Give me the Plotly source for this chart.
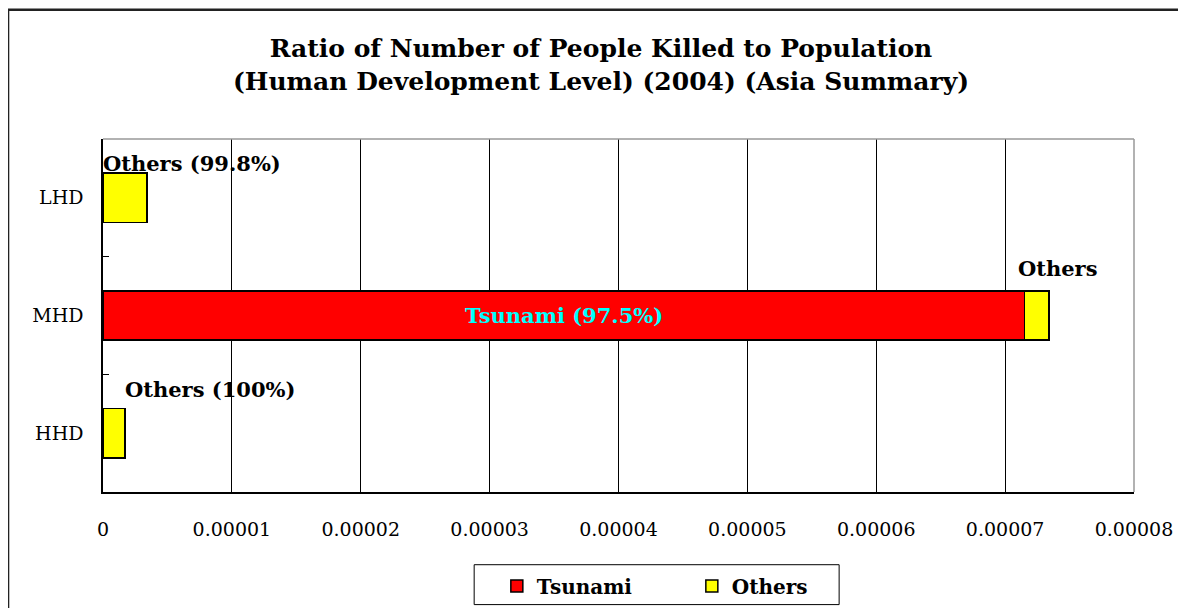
import plotly.graph_objects as go

# Ratio of people killed to population, by human development level (Asia, 2004)
levels = ['HHD', 'MHD', 'LHD']
tsunami = [0.0, 0.00007149, 0.0000000068]
others = [0.0000017, 0.00000192, 0.0000034]
label_text = ['Others (100%)', 'Others', 'Others (99.8%)']
tsunami_label = 'Tsunami (97.5%)'
x_ticks = [0, 0.00001, 0.00002, 0.00003, 0.00004, 0.00005, 0.00006, 0.00007, 0.00008]
x_tick_text = ['0', '0.00001', '0.00002', '0.00003', '0.00004', '0.00005', '0.00006', '0.00007', '0.00008']

serif = 'DejaVu Serif'
lbl_font = dict(family=serif, size=21, color='#000000')

fig = go.Figure()
fig.add_trace(go.Bar(y=levels, x=tsunami, name='<b>Tsunami</b>', orientation='h',
                     marker=dict(color='#FF0000', line=dict(color='#000000', width=1.5))))
fig.add_trace(go.Bar(y=levels, x=others, name='<b>Others</b>', orientation='h',
                     marker=dict(color='#FFFF00', line=dict(color='#000000', width=1.5))))

# Labels over the bars: HHD / LHD start at bar end (or axis), MHD one sits over the small segment
fig.add_annotation(x=tsunami[2], y=levels[2], text='<b>' + label_text[2] + '</b>', showarrow=False,
                   xanchor='left', xshift=-2, yshift=34, font=lbl_font)
fig.add_annotation(x=tsunami[1], y=levels[1], text='<b>' + label_text[1] + '</b>', showarrow=False,
                   xanchor='left', xshift=-8, yshift=47, font=lbl_font)
fig.add_annotation(x=others[0], y=levels[0], text='<b>' + label_text[0] + '</b>', showarrow=False,
                   xanchor='left', xshift=-2, yshift=44, font=lbl_font)
fig.add_annotation(x=tsunami[1] / 2, y=levels[1], text='<b>' + tsunami_label + '</b>', showarrow=False,
                   font=dict(family=serif, size=21, color='#00FFFF'))

# Gray top/right border of the plot area and the outer chart frame
fig.add_shape(type='line', xref='paper', yref='paper', x0=0, x1=1, y0=1, y1=1,
              line=dict(color='#999999', width=1.5))
fig.add_shape(type='line', xref='paper', yref='paper', x0=1, x1=1, y0=0, y1=1,
              line=dict(color='#999999', width=1.5))
fig.add_shape(type='rect', xref='paper', yref='paper', x0=-0.0921, x1=1.1, y0=-0.39, y1=1.366,
              line=dict(color='#222222', width=2.5))
# legend box drawn separately so the entries can sit further in
fig.add_shape(type='rect', xref='paper', yref='paper', x0=0.36, x1=0.714, y0=-0.319, y1=-0.206,
              line=dict(color='#000000', width=1))

# page has an 8px body margin, so margins are shifted by that much
fig.update_layout(
    width=1186, height=608,
    margin=dict(l=95, r=60, t=131, b=123),
    paper_bgcolor='white', plot_bgcolor='white',
    barmode='stack', bargap=0.58,
    title=dict(text='<b>Ratio of Number of People Killed to Population<br>'
                    '(Human Development Level) (2004) (Asia Summary)</b>',
               x=601 / 1186 - 8 / 1186, xanchor='center', y=1 - 49 / 608, yanchor='top',
               font=dict(family=serif, size=25, color='#000000')),
    legend=dict(orientation='h', x=0.382, xanchor='left', y=-0.263, yanchor='middle',
                borderwidth=0, bgcolor='rgba(0,0,0,0)', traceorder='normal',
                entrywidth=150, itemwidth=30,
                font=dict(family=serif, size=20, color='#000000')),
    showlegend=True,
)
fig.update_xaxes(range=[0, 0.00008], tickvals=x_ticks, ticktext=x_tick_text,
                 showgrid=True, gridcolor='#000000', gridwidth=1, zeroline=False,
                 showline=True, linecolor='#000000', linewidth=1.5,
                 ticks='inside', ticklen=5, tickcolor='#000000', ticklabelstandoff=19,
                 tickfont=dict(family=serif, size=19, color='#000000'))
fig.update_yaxes(categoryorder='array', categoryarray=levels, showgrid=False, zeroline=False,
                 showline=True, linecolor='#000000', linewidth=1.5,
                 ticks='inside', tickson='boundaries', ticklen=6, tickcolor='#000000',
                 ticklabelstandoff=14,
                 tickfont=dict(family=serif, size=19, color='#000000'))

fig.write_html('out.html')
